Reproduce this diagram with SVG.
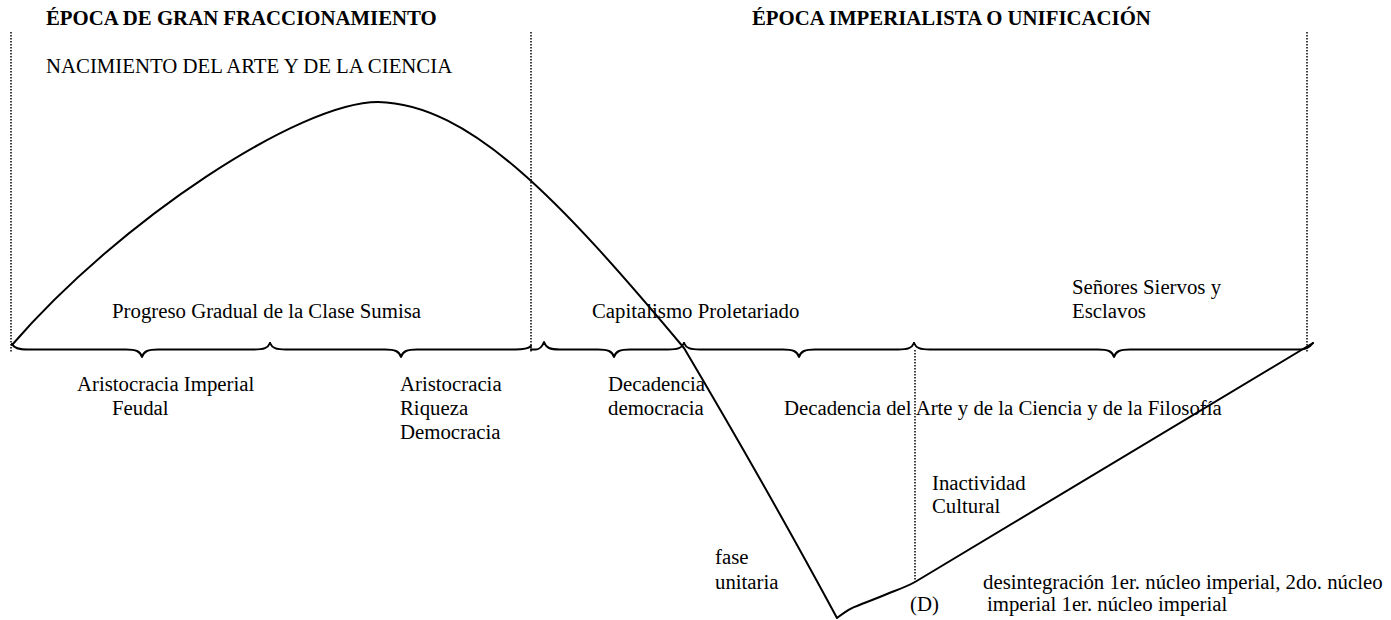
<svg xmlns="http://www.w3.org/2000/svg" width="1391" height="620" viewBox="0 0 1391 620">
<style>
text{font-family:"Liberation Serif","Times New Roman",serif;font-size:20.8px;fill:#000}
.b{font-weight:bold}
.dot{stroke:#000;stroke-width:1.5;stroke-dasharray:1.5 1.5;fill:none}
.ln{stroke:#000;stroke-width:2;fill:none;stroke-linejoin:round;stroke-linecap:round}
</style>
<rect width="1391" height="620" fill="#fff"/>
<g id="guides">
<line class="dot" x1="11" y1="32" x2="11" y2="353"/>
<line class="dot" x1="531" y1="32" x2="531" y2="353"/>
<line class="dot" x1="1307" y1="32" x2="1307" y2="352"/>
<line class="dot" x1="915" y1="350" x2="915" y2="582"/>
</g>
<g id="braces" class="ln">
<path d="M12,344 C14,348 18,349.5 28,349.5 L126,349.5 C136,349.5 140,351 142,357 C144,351 148,349.5 158,349.5 L254,349.5 C264,349.5 268,348 270,343"/>
<path d="M270,343 C272,348 276,349.5 286,349.5 L385,349.5 C395,349.5 399,351 401,357 C403,351 407,349.5 417,349.5 L515,349.5 C525,349.5 529,348 531,346"/>
<path d="M531,349.5 L536,349.5 C540,349.5 542,347 544,342 C546,348 550,349.5 560,349.5 L598,349.5 C608,349.5 612,351 614,357 C616,351 620,349.5 630,349.5 L668,349.5 C678,349.5 682,348 684,343"/>
<path d="M684,343 C686,348 690,349.5 700,349.5 L783,349.5 C793,349.5 797,351 799,357 C801,351 805,349.5 815,349.5 L898,349.5 C908,349.5 912,348 914,343"/>
<path d="M914,343 C916,348 920,349.5 930,349.5 L1098,349.5 C1108,349.5 1112,351 1114,357 C1116,351 1120,349.5 1130,349.5 L1300,349.5 C1306,349.5 1310,347 1313,343"/>
</g>
<g id="connectors" class="ln">
<path d="M12,345 C120,220 300,102 378,102 C470,104 560,200 684,348 Q768,490 837,618 C845,612 850,608 857,606 C866,602 873,600 887,594 C897,590 906,587 915,582 L1313,343"/>
</g>
<g id="titles">
<text class="b" x="46" y="25">ÉPOCA DE GRAN FRACCIONAMIENTO</text>
<text class="b" x="752" y="25">ÉPOCA IMPERIALISTA O UNIFICACIÓN</text>
<text x="46" y="73">NACIMIENTO DEL ARTE Y DE LA CIENCIA</text>
</g>
<g id="labels">
<text x="112" y="318">Progreso Gradual de la Clase Sumisa</text>
<text x="592" y="318">Capitalismo Proletariado</text>
<text x="1072" y="294">Señores Siervos y</text>
<text x="1072" y="318">Esclavos</text>
<text x="77" y="391">Aristocracia Imperial</text>
<text x="112" y="415">Feudal</text>
<text x="400" y="391">Aristocracia</text>
<text x="400" y="415">Riqueza</text>
<text x="400" y="439">Democracia</text>
<text x="608" y="391">Decadencia</text>
<text x="608" y="415">democracia</text>
<text x="784" y="415">Decadencia del Arte y de la Ciencia y de la Filosofía</text>
<text x="932" y="490">Inactividad</text>
<text x="932" y="513">Cultural</text>
<text x="715" y="564">fase</text>
<text x="715" y="589">unitaria</text>
<text x="983" y="589">desintegración 1er. núcleo imperial, 2do. núcleo</text>
<text x="910" y="611">(D)</text>
<text x="987" y="611">imperial 1er. núcleo imperial</text>
</g>
</svg>
